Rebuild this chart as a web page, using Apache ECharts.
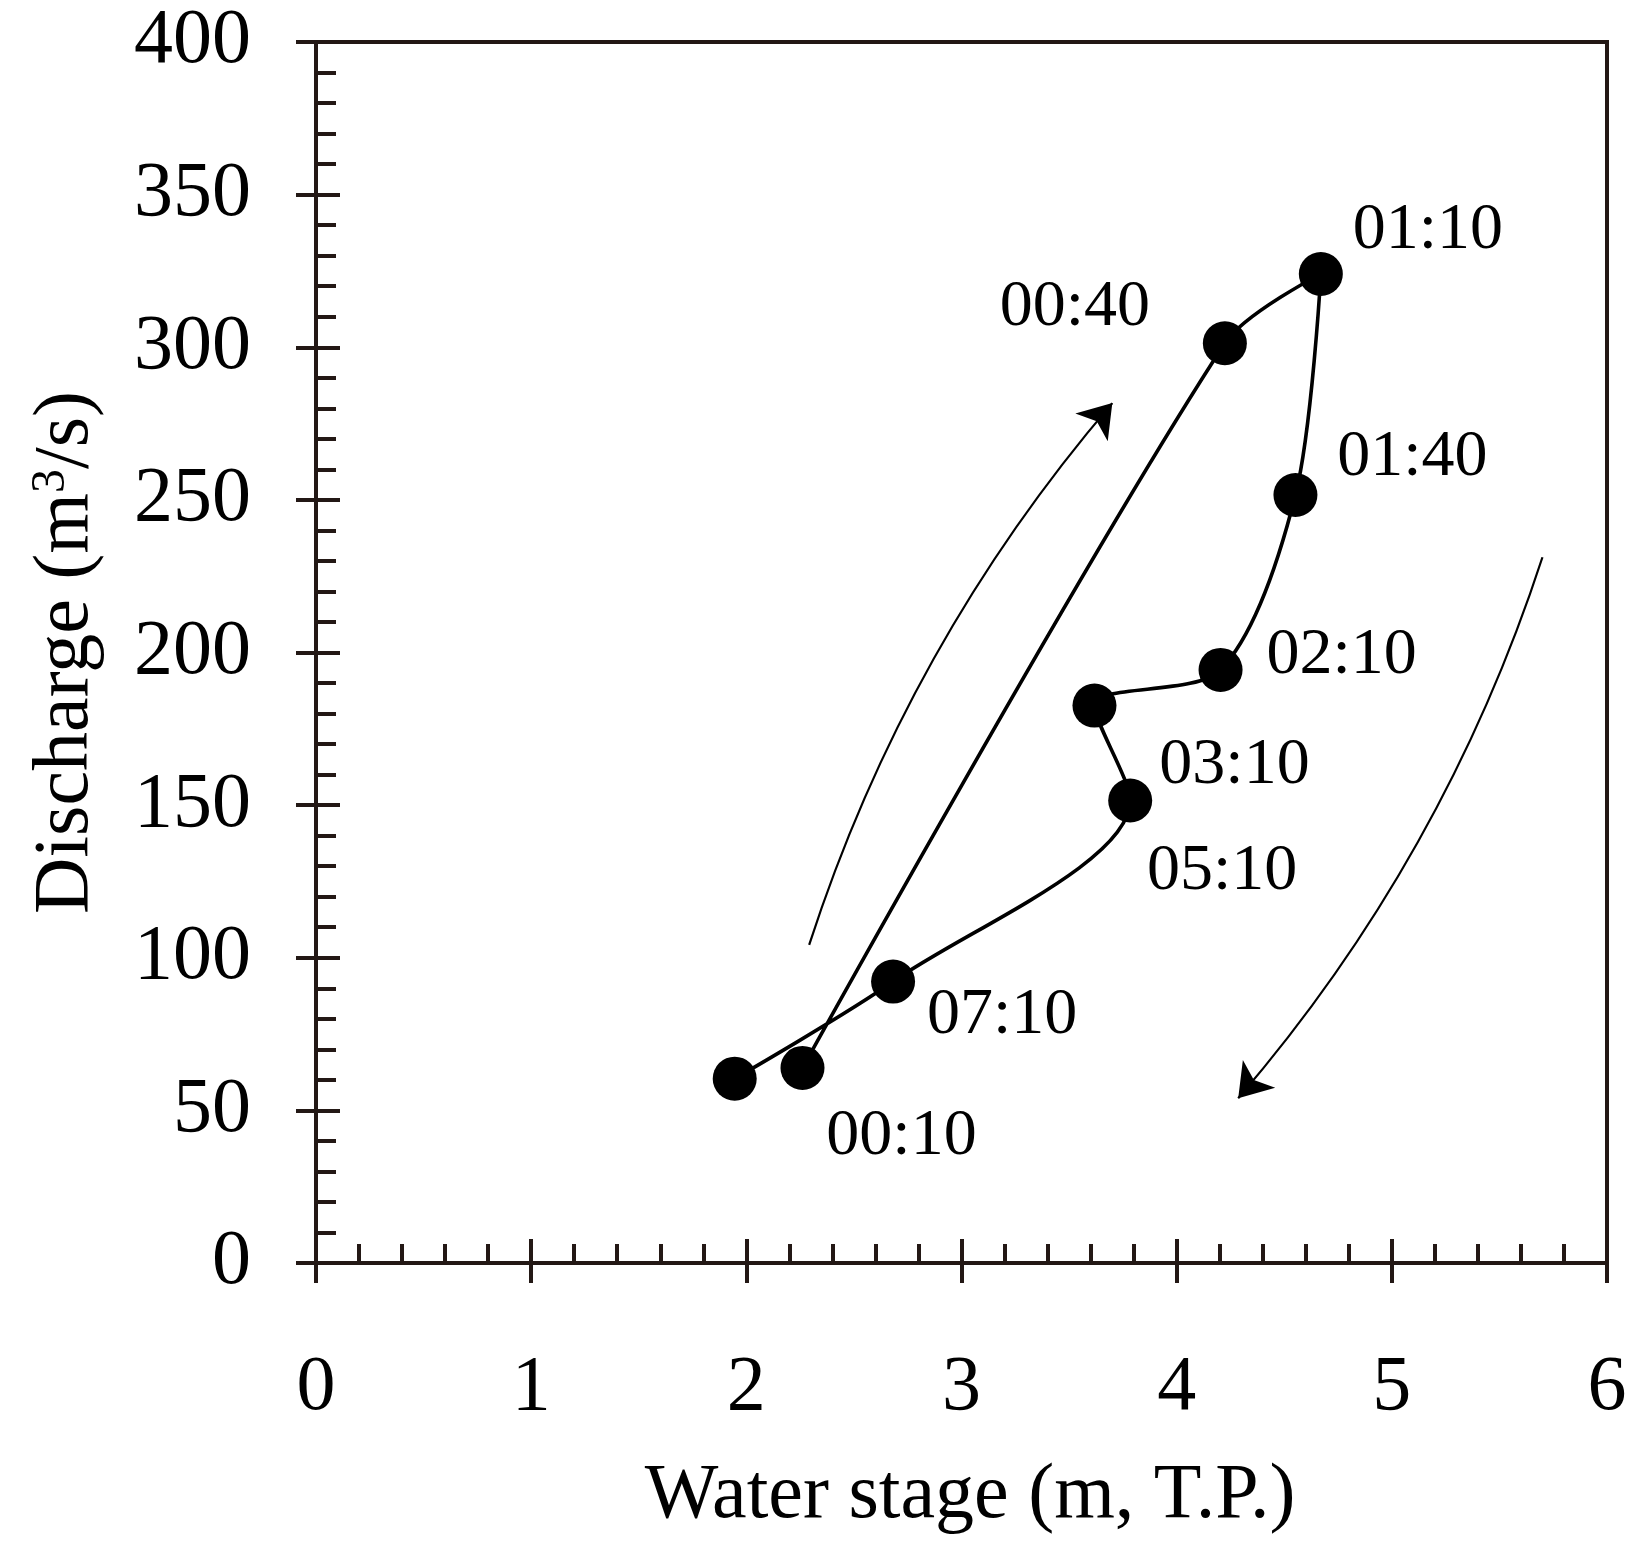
<!DOCTYPE html>
<html>
<head>
<meta charset="utf-8">
<script src="https://cdn.jsdelivr.net/npm/echarts@6/dist/echarts.min.js"></script>
<style>
html,body{margin:0;padding:0;background:#fff;}
#chart{width:1632px;height:1545px;}
</style>
</head>
<body>
<div id="chart"></div>
<script>
// ---- data ----
const waterStage = [2.261, 4.224, 4.670, 4.552, 4.204, 3.618, 3.784, 2.682, 1.946];
const discharge  = [63.9, 301.3, 324.0, 251.6, 194.3, 182.6, 151.5, 92.2, 60.4];
const timeLabels = ['00:10', '00:40', '01:10', '01:40', '02:10', '03:10', '05:10', '07:10', ''];
const xTicks = [0, 1, 2, 3, 4, 5, 6];
const yTicks = [0, 50, 100, 150, 200, 250, 300, 350, 400];
const risingArrow  = [[2.292, 104.2], [3.701, 281.7]];
const fallingArrow = [[5.700, 231.2], [4.286, 54.0]];

// ---- layout of the time labels (pixel offsets from each point) ----
const labelOffsets = [[99, 69], [-150, -36], [107, -43], [117, -37], [121, -14], [140, 60], [92, 71], [109, 34], [0, 0]];

const AX = '#231815';
const FONT = 'Liberation Serif';

const chart = echarts.init(document.getElementById('chart'));

const pts = waterStage.map((x, i) => ({
  value: [x, discharge[i]],
  label: {
    show: timeLabels[i] !== '',
    formatter: timeLabels[i],
    position: 'inside',
    offset: labelOffsets[i],
    align: 'center',
    verticalAlign: 'middle',
    fontFamily: FONT,
    fontSize: 66,
    color: '#000'
  }
}));

const baseX = {
  type: 'value', min: xTicks[0], max: xTicks[xTicks.length - 1], interval: 1,
  position: 'bottom', splitLine: { show: false }
};
const baseY = {
  type: 'value', min: yTicks[0], max: yTicks[yTicks.length - 1], interval: 50,
  position: 'left', splitLine: { show: false }
};

chart.setOption({
  backgroundColor: '#fff',
  animation: false,
  grid: {
    left: 316, right: 25, top: 42, bottom: 282,
    show: true, borderColor: AX, borderWidth: 4, backgroundColor: 'transparent',
    outerBoundsMode: 'none', containLabel: false
  },
  xAxis: [
    Object.assign({}, baseX, {
      axisLine: { show: true, onZero: false, lineStyle: { color: AX, width: 4 } },
      axisTick: { show: true, inside: true, length: 24, lineStyle: { color: AX, width: 4 } },
      minorTick: { show: true, splitNumber: 5, length: 19, lineStyle: { color: AX, width: 4 } },
      axisLabel: { show: false }
    }),
    Object.assign({}, baseX, {
      axisLine: { show: false, onZero: false },
      axisTick: { show: true, inside: false, length: 20, lineStyle: { color: AX, width: 4 } },
      minorTick: { show: false },
      axisLabel: { show: true, margin: 87, fontFamily: FONT, fontSize: 78, color: '#000' },
      name: 'Water stage (m, T.P.)',
      nameLocation: 'middle',
      nameGap: 195,
      nameTextStyle: { fontFamily: FONT, fontSize: 78, color: '#000', padding: [0, 0, 0, 17] }
    })
  ],
  yAxis: [
    Object.assign({}, baseY, {
      axisLine: { show: true, onZero: false, lineStyle: { color: AX, width: 4 } },
      axisTick: { show: true, inside: true, length: 24, lineStyle: { color: AX, width: 4 } },
      minorTick: { show: true, splitNumber: 5, length: 20, lineStyle: { color: AX, width: 4 } },
      axisLabel: { show: false }
    }),
    Object.assign({}, baseY, {
      axisLine: { show: false, onZero: false },
      axisTick: { show: true, inside: false, length: 20, lineStyle: { color: AX, width: 4 } },
      minorTick: { show: false },
      axisLabel: { show: true, margin: 65, fontFamily: FONT, fontSize: 78, color: '#000' },
      name: '{a|Discharge (m}{s|3}{a|/s)}',
      nameLocation: 'middle',
      nameGap: 209,
      nameTextStyle: {
        fontFamily: FONT, fontSize: 78, color: '#000',
        rich: {
          a: { fontFamily: FONT, fontSize: 78, color: '#000', lineHeight: 80 },
          s: { fontFamily: FONT, fontSize: 48, color: '#000', verticalAlign: 'top', lineHeight: 80 }
        }
      }
    })
  ],
  series: [
    {
      type: 'line',
      xAxisIndex: 0, yAxisIndex: 0,
      data: pts,
      smooth: 0.3,
      symbol: 'circle',
      symbolSize: 44,
      itemStyle: { color: '#000' },
      lineStyle: { color: '#000', width: 3.6 },
      z: 3
    },
    {
      type: 'lines',
      coordinateSystem: 'cartesian2d',
      xAxisIndex: 0, yAxisIndex: 0,
      symbol: ['none', 'arrow'],
      symbolSize: 32,
      lineStyle: { color: '#000', width: 2.2, curveness: 0.1, opacity: 1 },
      data: [{ coords: risingArrow }, { coords: fallingArrow }],
      z: 2
    }
  ]
});
</script>
</body>
</html>
